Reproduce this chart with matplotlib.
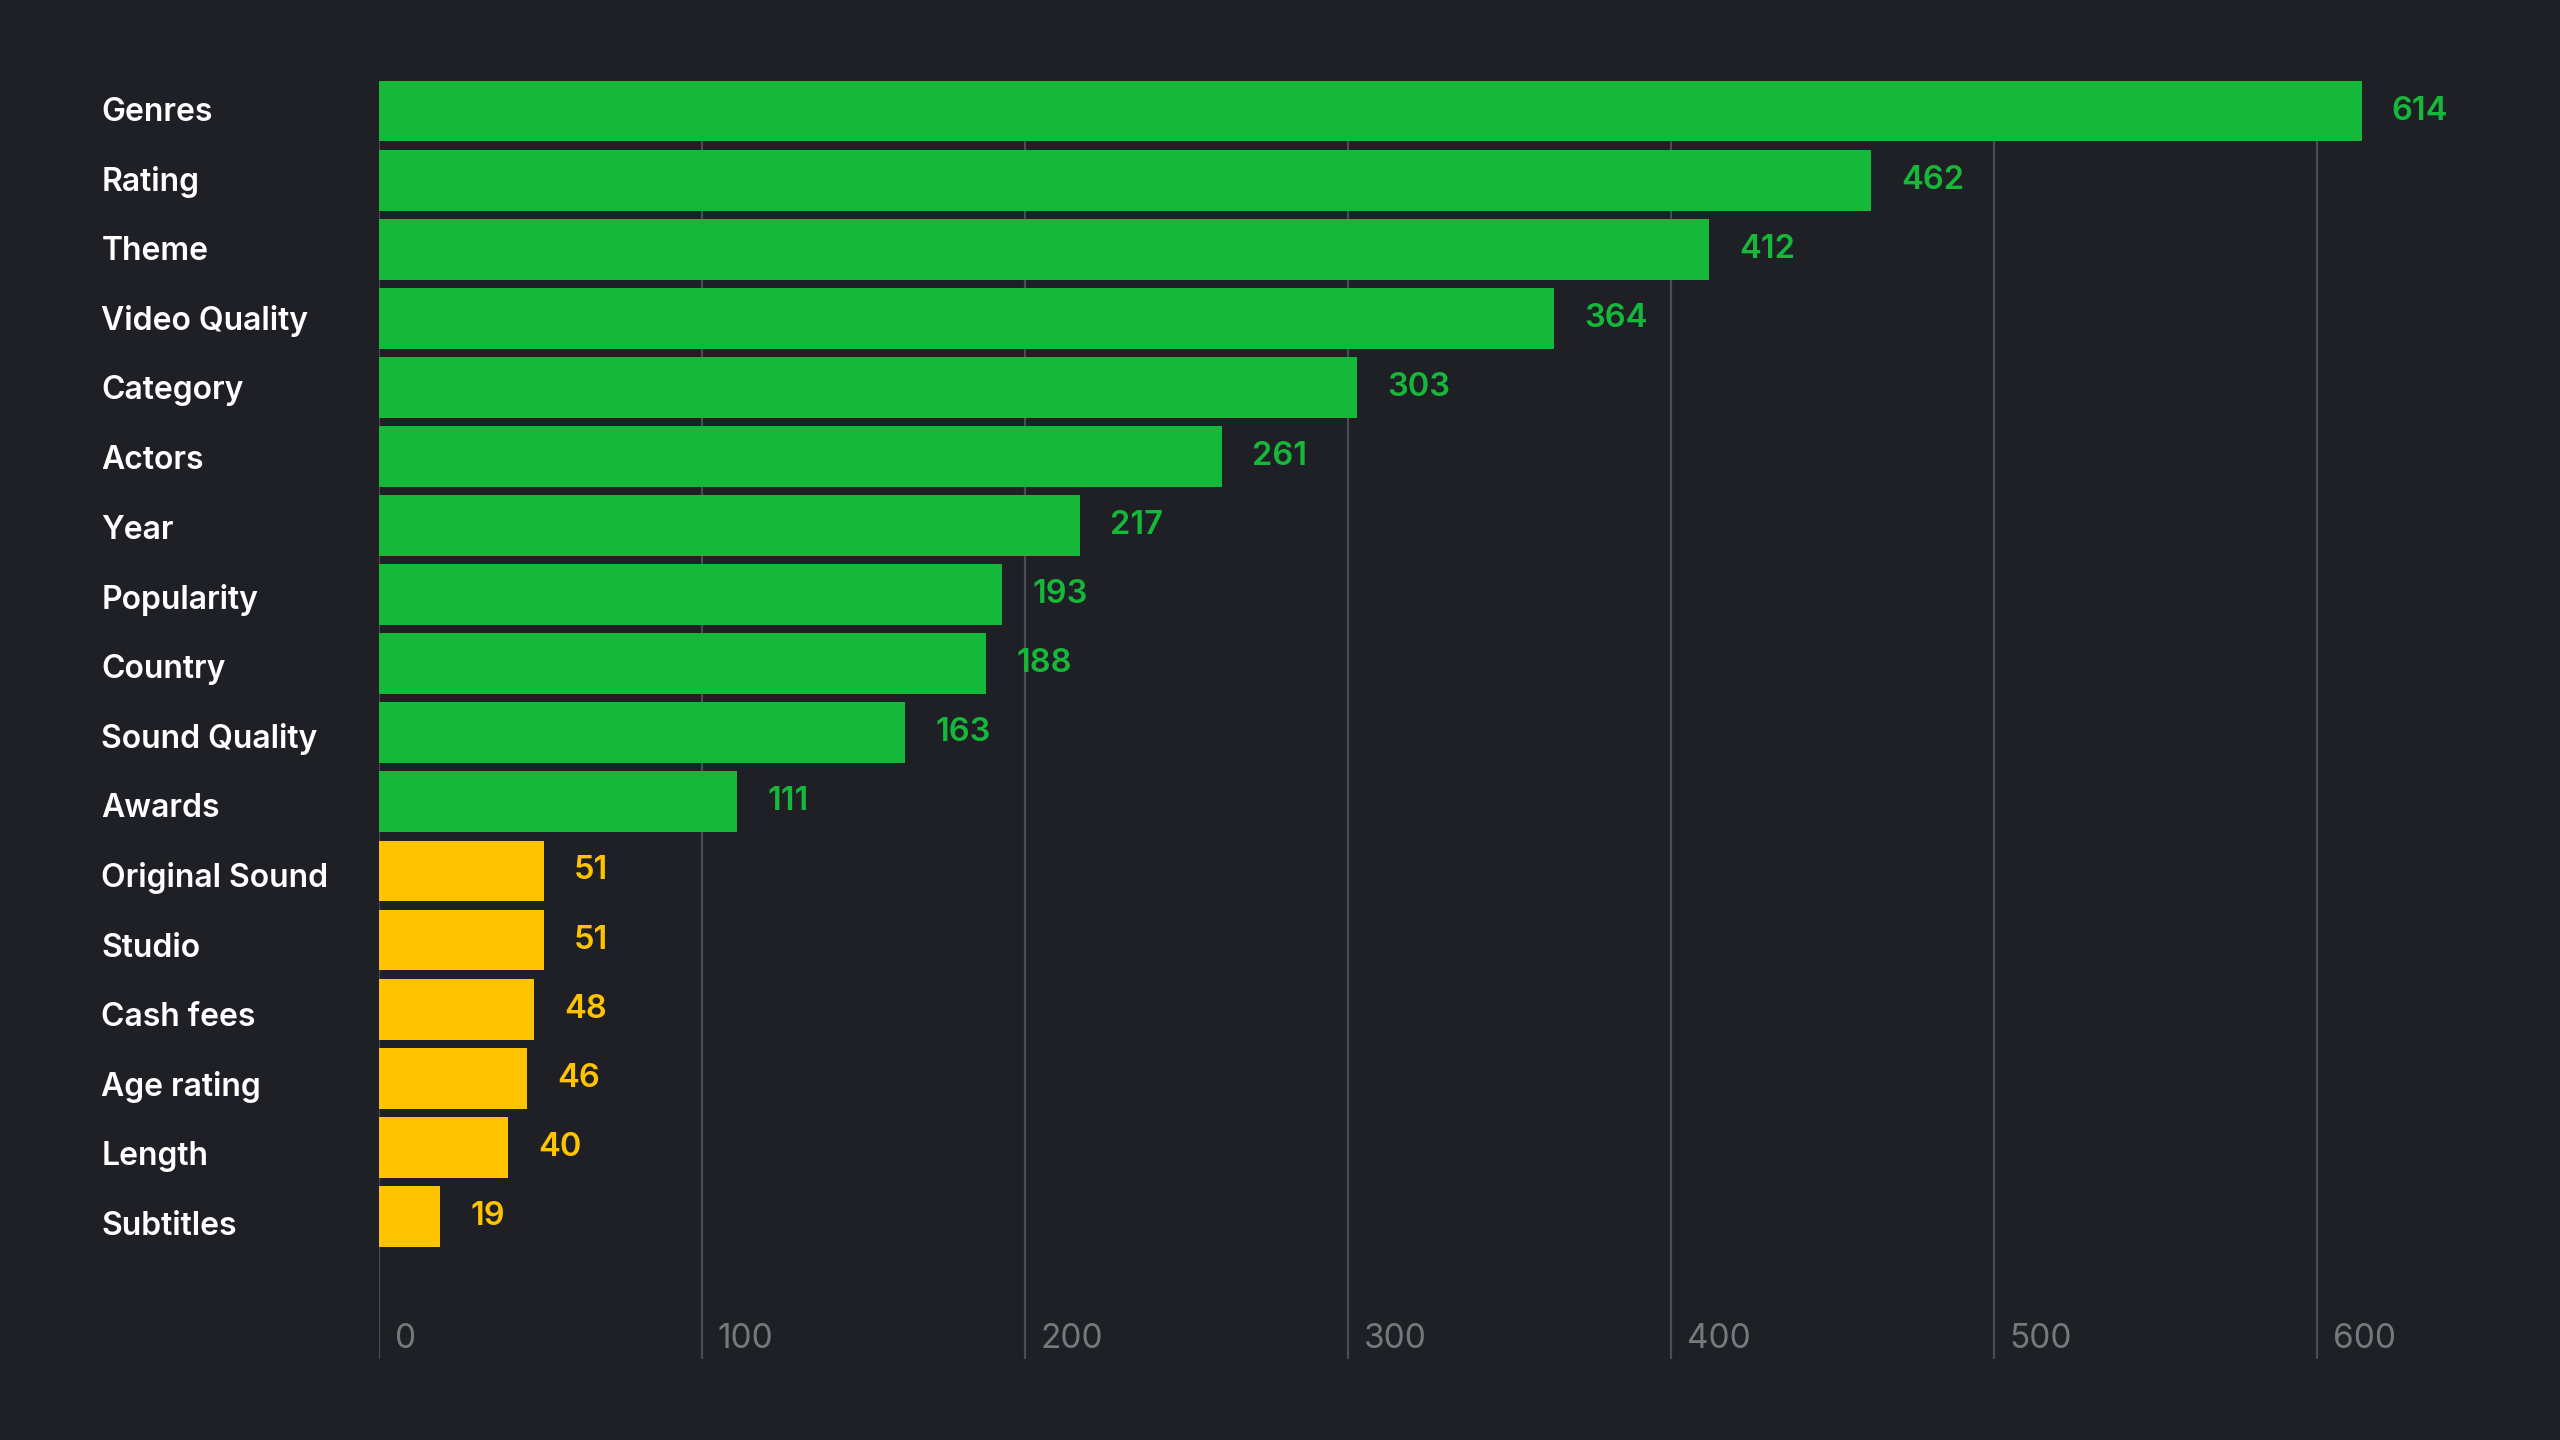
import matplotlib
matplotlib.use("Agg")
import matplotlib.pyplot as plt
import matplotlib.transforms as mtransforms
import numpy as np

plt.rcParams['font.family'] = ['Inter', 'DejaVu Sans']

categories = ["Genres", "Rating", "Theme", "Video Quality", "Category", "Actors",
              "Year", "Popularity", "Country", "Sound Quality", "Awards",
              "Original Sound", "Studio", "Cash fees", "Age rating", "Length",
              "Subtitles"]
values = [614, 462, 412, 364, 303, 261, 217, 193, 188, 163, 111,
          51, 51, 48, 46, 40, 19]
groups = ["green"] * 11 + ["yellow"] * 6
ticks = [0, 100, 200, 300, 400, 500, 600]

BG = "#1f2025"
GREEN = "#16b83a"
YELLOW = "#ffc300"
palette = {"green": GREEN, "yellow": YELLOW}

fig = plt.figure(figsize=(25.6, 14.4), dpi=100, facecolor=BG)
ax = fig.add_axes([0.148, 0.056, 0.82, 0.888])
ax.set_facecolor(BG)

y = np.arange(len(categories))
cols = [palette[g] for g in groups]
ax.barh(y, values, height=0.88, color=cols, zorder=3)

ax.set_ylim(18.07, -0.44)
ax.set_xlim(0, 650)

for t in ticks:
    ax.axvline(t, color="#4b4c52", lw=1.6, zorder=1)
    ax.text(t, 17.78, f"{t}", color="#77787c", fontsize=24,
            ha="left", va="center", zorder=4,
            transform=mtransforms.offset_copy(ax.transData, fig=fig, x=16, y=0, units="dots"))

for yi, v, c in zip(y, values, cols):
    ax.text(v, yi, f"{v}", color=c, fontsize=23.5, fontweight="semibold",
            ha="left", va="center", zorder=4,
            transform=mtransforms.offset_copy(ax.transData, fig=fig, x=30, y=0, units="dots"))

# labels sit on a slightly looser pitch than the bars
trans = mtransforms.blended_transform_factory(fig.transFigure, ax.transData)
for yi, name in zip(y, categories):
    ax.text(0.0396, yi * 1.008 + 0.02, name, color="white", fontsize=23,
            fontweight="semibold", ha="left", va="center",
            transform=trans, clip_on=False)

for s in ax.spines.values():
    s.set_visible(False)
ax.set_xticks([])
ax.set_yticks([])

fig.savefig("out.png", dpi=100, facecolor=BG)
